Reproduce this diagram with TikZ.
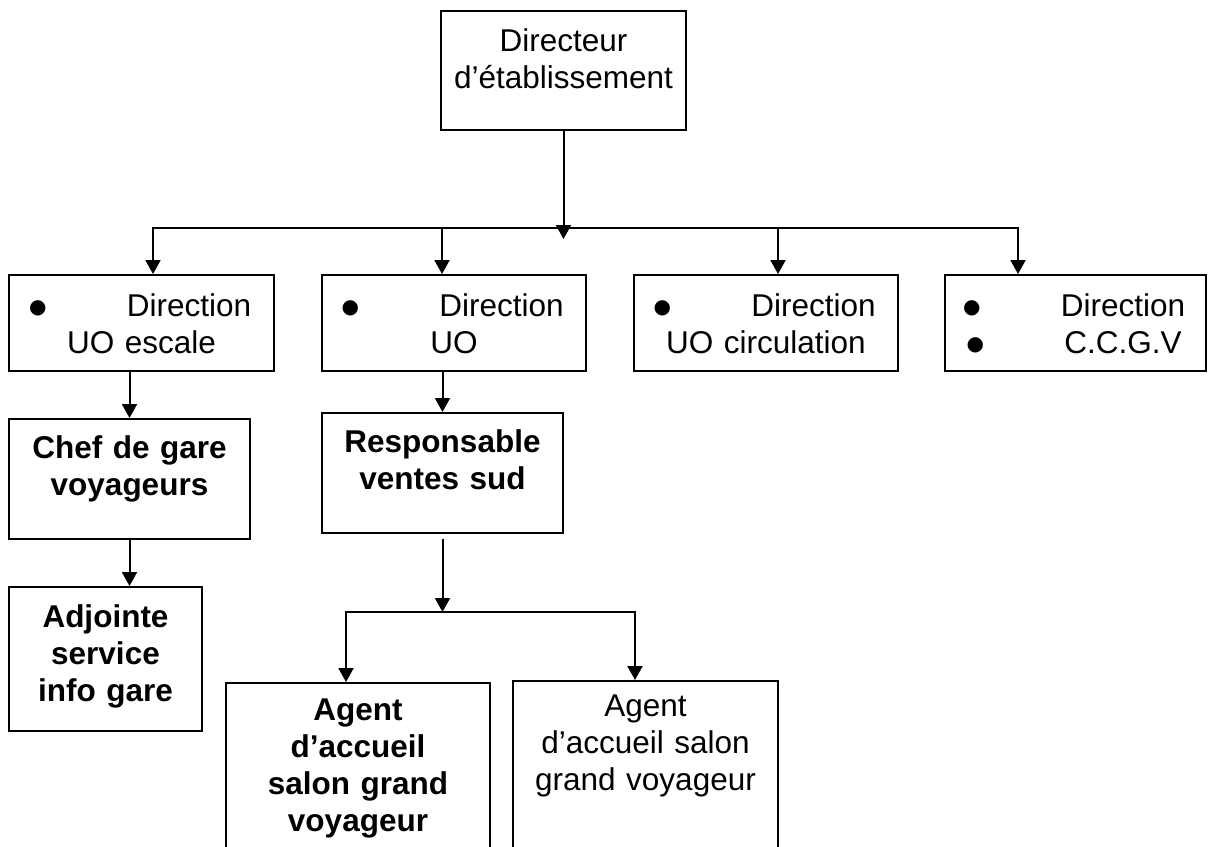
\documentclass[tikz,border=0pt]{standalone}
\usepackage{fontspec}
\setmainfont{Liberation Sans}
\newfontfamily\symfont{DejaVu Sans}
\usetikzlibrary{arrows.meta, calc}
\tikzset{
  box/.style 2 args={draw, inner sep=0pt, minimum width=#1, minimum height=#2},
  txt/.style={anchor=base, align=center, inner sep=0pt, text width=#1,
    font=\fontsize{15.75pt}{18.5pt}\selectfont},
  bold/.style={txt=#1, font=\fontsize{15.75pt}{18.5pt}\selectfont\bfseries},
}
\newcommand{\bul}{\hspace{3pt}\makebox[0pt]{\raisebox{1.5pt}{\symfont\fontsize{10pt}{10pt}\selectfont ●}}\hspace{44.5pt}}

\begin{document}
\begin{tikzpicture}[x=0.5pt, y=-0.5pt, line width=1pt,
	>={Triangle[length=7pt,width=7.5pt]}]
	\clip (0,0) rectangle (1208,846);

	\node[box={122.5pt}{59.5pt}] (dir) at (563.5,70.5) {};
	\node[box={132.5pt}{48pt}] (esc) at (141.5,323) {};
	\node[box={132pt}{48pt}] (uo) at (454,323) {};
	\node[box={132pt}{48pt}] (circ) at (766,323) {};
	\node[box={130.5pt}{48pt}] (ccgv) at (1075.5,323) {};
	\node[box={120.5pt}{60pt}] (chef) at (129.5,479) {};
	\node[box={96.5pt}{72pt}] (adj) at (105.5,659) {};
	\node[box={120.5pt}{60pt}] (resp) at (442.5,473) {};
	\node[box={132pt}{108.5pt}] (agb) at (358,791.5) {};
	\node[box={132.5pt}{109.5pt}] (agn) at (645.5,790.5) {};

	\node[txt=122.5pt] (dir-t) at ($(dir.north)+(0,41)$) {Directeur\\d’établissement};
	\node[txt=132.5pt] (esc-t) at ($(esc.north)+(0,42)$) {\bul Direction\\UO escale};
	\node[txt=132pt] (uo-t) at ($(uo.north)+(0,42)$) {\bul Direction\\UO};
	\node[txt=132pt] (circ-t) at ($(circ.north)+(0,42)$) {\bul Direction\\UO circulation};
	\node[txt=130.5pt] (ccgv-t) at ($(ccgv.north)+(0,42)$) {\bul Direction\\\bul C.C.G.V};
	\node[bold=120.5pt] (chef-t) at ($(chef.north)+(0,40)$) {Chef de gare\\voyageurs};
	\node[bold=96.5pt] (adj-t) at ($(adj.north)+(0,41)$) {Adjointe\\service\\info gare};
	\node[bold=120.5pt] (resp-t) at ($(resp.north)+(0,40)$) {Responsable\\ventes sud};
	\node[bold=132pt] (agb-t) at ($(agb.north)+(0,38)$) {Agent\\d’accueil\\salon grand\\voyageur};
	\node[txt=132.5pt] (agn-t) at ($(agn.north)+(0,36)$) {Agent\\d’accueil salon\\grand voyageur};

	\coordinate (bus) at ($(dir.south)+(0,97)$);
	\coordinate (hub) at ($(dir.south)+(0,108)$);
	\coordinate (in1) at ($(esc.north)+(11.5,0)$);
	\coordinate (in2) at ($(uo.north)+(-12,0)$);
	\coordinate (in3) at ($(circ.north)+(12,0)$);
	\coordinate (in4) at ($(ccgv.north)+(-57.5,0)$);
	\coordinate (split) at ($(resp.south)+(0,78)$);
	\coordinate (in5) at ($(agb.north)+(-12,0)$);
	\coordinate (in6) at ($(agn.north)+(-10.5,0)$);

	\draw[->] (dir.south) -- (hub);
	\draw[<->] (in1) |- (in4 |- bus) -- (in4);
	\draw[->] (in2 |- bus) -- (in2);
	\draw[->] (in3 |- bus) -- (in3);
	\draw[->] (chef.north |- esc.south) -- (chef.north);
	\draw[->] (chef.south) -- (chef.south |- adj.north);
	\draw[->] (resp.north |- uo.south) -- (resp.north);
	\draw[->, shorten <=2.5pt] (resp.south) -- (split);
	\draw[<->] (in5) |- (in6 |- split) -- (in6);
\end{tikzpicture}
\end{document}
